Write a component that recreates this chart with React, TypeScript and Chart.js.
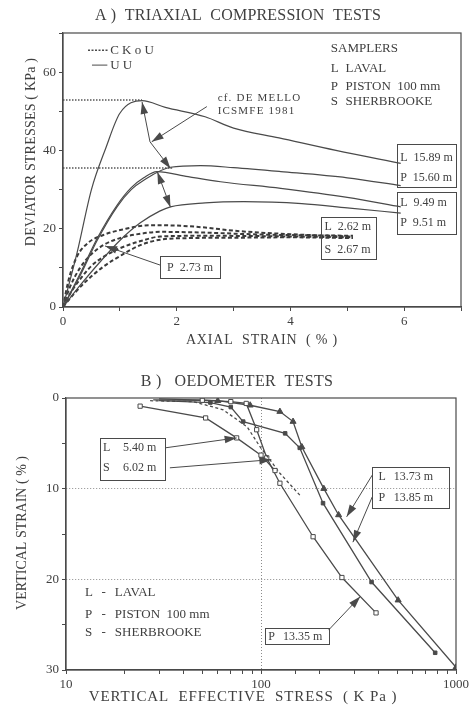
import React, { useEffect, useRef } from 'react';
import { Chart, registerables } from 'chart.js';

Chart.register(...registerables);

const SERIF = '"Liberation Serif", "DejaVu Serif", serif';
const INK = '#404040';
const STROKE = '#4a4a4a';
const GRID = '#8c8c8c';

// ===================== A) TRIAXIAL COMPRESSION TESTS =====================
const strainTickLabels = [0, 2, 4, 6];
const stressTickLabels = [0, 20, 40, 60];

// UU tests (solid)
const uuL1589Strain = [0, 0.25, 0.5, 0.75, 1.0, 1.39, 1.8, 2.5, 3.0, 3.8, 4.8, 5.94];
const uuL1589Stress = [0, 14, 30, 40.5, 49.5, 52.7, 51.0, 48.6, 45.7, 43.2, 40.0, 36.7];
const uuP1560Strain = [0, 0.3, 0.6, 0.95, 1.2, 1.42, 1.89, 2.42, 3.0, 3.83, 5.0, 5.94];
const uuP1560Stress = [0, 8, 17, 25.6, 30, 32.4, 35.7, 36.1, 35.6, 34.6, 33.0, 31.0];
const uuL949Strain = [0, 0.3, 0.6, 0.95, 1.2, 1.42, 1.65, 2.2, 2.77, 3.83, 5.0, 5.94];
const uuL949Stress = [0, 8.5, 17.5, 26, 30.5, 33, 34.6, 33.3, 32.0, 30.3, 28.0, 25.6];
const uuP951Strain = [0, 0.3, 0.65, 1.0, 1.36, 1.7, 1.89, 2.5, 3.18, 4.2, 5.0, 5.94];
const uuP951Stress = [0, 5.5, 11.5, 17, 21.5, 24.5, 25.6, 26.6, 26.9, 26.4, 25.3, 24.0];

// CKoU tests (dashed)
const ck1Strain = [0, 0.1, 0.25, 0.45, 0.71, 1.05, 1.53, 2.0, 2.5, 3.0, 4.0, 5.1];
const ck1Stress = [0, 7, 13, 16.5, 18.4, 19.8, 20.9, 20.8, 20.3, 19.5, 18.6, 18.0];
const ck2Strain = [0, 0.12, 0.3, 0.5, 0.71, 1.0, 1.4, 1.71, 2.5, 3.5, 5.1];
const ck2Stress = [0, 5, 10, 13.5, 15.8, 17.6, 18.8, 19.2, 19.0, 18.5, 18.2];
const ck3Strain = [0, 0.15, 0.35, 0.5, 0.71, 1.0, 1.4, 1.71, 2.5, 3.5, 5.1];
const ck3Stress = [0, 4, 8, 10.5, 12.8, 15.0, 17.0, 18.0, 18.2, 18.1, 17.8];
const ck4Strain = [0, 0.2, 0.4, 0.71, 1.0, 1.36, 1.71, 2.2, 3.0, 4.0, 5.1];
const ck4Stress = [0, 3.5, 6.5, 10.3, 13.0, 15.8, 17.2, 17.6, 17.7, 17.8, 17.6];

// dotted peak reference lines
const peakRef1Strain = [0, 1.39];
const peakRef1Stress = [52.9, 52.9];
const peakRef2Strain = [0, 1.92];
const peakRef2Stress = [35.5, 35.5];

// ===================== B) OEDOMETER TESTS =====================
const effStressTickLabels = [10, 100, 1000];
const vStrainTickLabels = [0, 10, 20, 30];

const l540Stress = [24, 52, 75, 100, 118];
const l540Strain = [0.9, 2.2, 4.4, 6.3, 8.0];
const s602Stress = [27, 45, 64, 85, 99, 111, 125, 161];
const s602Strain = [0.3, 0.4, 1.3, 3.2, 5.4, 6.8, 8.3, 10.9];
const p1335Stress = [28, 50, 70, 84, 95, 107, 125, 185, 260, 389];
const p1335Strain = [0.2, 0.25, 0.4, 0.6, 3.5, 6.6, 9.4, 15.3, 19.8, 23.7];
const l1373Stress = [30, 60, 88, 125, 146, 162, 210, 250, 505, 1000];
const l1373Strain = [0.1, 0.3, 0.8, 1.5, 2.6, 5.4, 10, 12.9, 22.3, 29.7];
const p1385Stress = [30, 55, 70, 81, 133, 158, 208, 369, 782];
const p1385Strain = [0.3, 0.5, 1.0, 2.6, 3.9, 5.5, 11.6, 20.3, 28.1];

// ===================== helpers =====================
type XY = [number, number];
const zip = (xs: number[], ys: number[]) => xs.map((x, i) => ({ x, y: ys[i] }));

type Ann =
  | { t: 'text'; at: XY; s: string; size: number; align?: CanvasTextAlign; sp?: number }
  | { t: 'box'; from: XY; to: XY }
  | { t: 'arrow'; pts: XY[]; start?: boolean; end?: boolean }
  | { t: 'seg'; from: XY; to: XY; dash: number[]; w: number };

type Frame = {
  title: string; titleAt: XY; titleSize: number; titleSp: number;
  xTitle: string; xTitleAt: XY; xSize: number; xSp: number;
  yTitle: string; yTitleAt: XY; ySize: number; ySp: number;
};

function toPx(chart: any, p: XY): XY {
  return [chart.scales.x.getPixelForValue(p[0]), chart.scales.y.getPixelForValue(p[1])];
}

function head(ctx: CanvasRenderingContext2D, from: XY, to: XY) {
  const ang = Math.atan2(to[1] - from[1], to[0] - from[0]);
  const L = 12, W = 3.8;
  const bx = to[0] - L * Math.cos(ang), by = to[1] - L * Math.sin(ang);
  ctx.beginPath();
  ctx.moveTo(to[0], to[1]);
  ctx.lineTo(bx + W * Math.sin(ang), by - W * Math.cos(ang));
  ctx.lineTo(bx - W * Math.sin(ang), by + W * Math.cos(ang));
  ctx.closePath();
  ctx.fill();
}

function textStyle(ctx: CanvasRenderingContext2D, size: number, align: CanvasTextAlign, sp: number) {
  ctx.font = `${size}px ${SERIF}`;
  ctx.textAlign = align;
  ctx.textBaseline = 'middle';
  ctx.fillStyle = INK;
  (ctx as any).letterSpacing = `${sp}px`;
}

function makeLayer(anns: Ann[], frame: Frame) {
  return {
    id: 'sketchLayer',
    afterDraw(chart: any) {
      const ctx: CanvasRenderingContext2D = chart.ctx;
      const ca = chart.chartArea;
      ctx.save();
      ctx.strokeStyle = STROKE;
      ctx.lineWidth = 1.2;
      ctx.setLineDash([]);
      ctx.strokeRect(ca.left, ca.top, ca.right - ca.left, ca.bottom - ca.top);

      textStyle(ctx, frame.titleSize, 'center', frame.titleSp);
      ctx.fillText(frame.title, frame.titleAt[0], frame.titleAt[1]);
      textStyle(ctx, frame.xSize, 'center', frame.xSp);
      ctx.fillText(frame.xTitle, frame.xTitleAt[0], frame.xTitleAt[1]);
      textStyle(ctx, frame.ySize, 'center', frame.ySp);
      ctx.save();
      ctx.translate(frame.yTitleAt[0], frame.yTitleAt[1]);
      ctx.rotate(-Math.PI / 2);
      ctx.fillText(frame.yTitle, 0, 0);
      ctx.restore();

      for (const a of anns) {
        ctx.strokeStyle = STROKE;
        ctx.fillStyle = STROKE;
        ctx.setLineDash([]);
        if (a.t === 'text') {
          const p = toPx(chart, a.at);
          textStyle(ctx, a.size, a.align || 'left', a.sp || 0);
          ctx.fillText(a.s, p[0], p[1]);
        } else if (a.t === 'box') {
          const p1 = toPx(chart, a.from), p2 = toPx(chart, a.to);
          ctx.lineWidth = 1;
          ctx.strokeRect(Math.round(p1[0]) + 0.5, Math.round(p1[1]) + 0.5, Math.round(p2[0] - p1[0]), Math.round(p2[1] - p1[1]));
        } else if (a.t === 'seg') {
          const p1 = toPx(chart, a.from), p2 = toPx(chart, a.to);
          ctx.lineWidth = a.w;
          ctx.setLineDash(a.dash);
          ctx.beginPath();
          ctx.moveTo(p1[0], p1[1]);
          ctx.lineTo(p2[0], p2[1]);
          ctx.stroke();
        } else if (a.t === 'arrow') {
          const ps = a.pts.map((q) => toPx(chart, q));
          ctx.lineWidth = 1;
          ctx.beginPath();
          ps.forEach((q, i) => (i === 0 ? ctx.moveTo(q[0], q[1]) : ctx.lineTo(q[0], q[1])));
          ctx.stroke();
          if (a.start) head(ctx, ps[1], ps[0]);
          if (a.end !== false) head(ctx, ps[ps.length - 2], ps[ps.length - 1]);
        }
      }
      (ctx as any).letterSpacing = '0px';
      ctx.restore();
    },
  };
}

const tickFont = { family: SERIF, size: 13 };

// ===================== annotations =====================
const annsA: Ann[] = [
  { t: 'seg', from: [0.44, 65.6], to: [0.79, 65.6], dash: [2, 1.5], w: 1.6 },
  { t: 'text', at: [0.83, 65.6], s: 'C K o U', size: 13 },
  { t: 'seg', from: [0.51, 61.8], to: [0.78, 61.8], dash: [], w: 1 },
  { t: 'text', at: [0.83, 61.8], s: 'U U', size: 13 },
  { t: 'text', at: [4.71, 66.1], s: 'SAMPLERS', size: 13 },
  { t: 'text', at: [4.71, 61.0], s: 'L', size: 13 },
  { t: 'text', at: [4.97, 61.0], s: 'LAVAL', size: 13 },
  { t: 'text', at: [4.71, 56.4], s: 'P', size: 13 },
  { t: 'text', at: [4.97, 56.4], s: 'PISTON  100 mm', size: 13 },
  { t: 'text', at: [4.71, 52.4], s: 'S', size: 13 },
  { t: 'text', at: [4.97, 52.4], s: 'SHERBROOKE', size: 13 },
  { t: 'text', at: [2.72, 53.3], s: 'cf. DE MELLO', size: 11, sp: 1.2 },
  { t: 'text', at: [2.72, 50.1], s: 'ICSMFE 1981', size: 11, sp: 1.2 },
  { t: 'arrow', pts: [[2.53, 51.2], [1.56, 42.2]] },
  { t: 'arrow', pts: [[1.39, 52.4], [1.53, 42.2], [1.89, 35.4]], start: true },
  { t: 'arrow', pts: [[1.66, 34.5], [1.89, 25.5]], start: true },
  { t: 'box', from: [5.87, 41.6], to: [6.9, 30.6] },
  { t: 'text', at: [5.93, 38.2], s: 'L  15.89 m', size: 12 },
  { t: 'text', at: [5.93, 33.1], s: 'P  15.60 m', size: 12 },
  { t: 'box', from: [5.87, 29.4], to: [6.9, 18.6] },
  { t: 'text', at: [5.93, 26.7], s: 'L  9.49 m', size: 12 },
  { t: 'text', at: [5.93, 21.5], s: 'P  9.51 m', size: 12 },
  { t: 'box', from: [4.53, 23.0], to: [5.49, 12.3] },
  { t: 'text', at: [4.6, 20.4], s: 'L  2.62 m', size: 12 },
  { t: 'text', at: [4.6, 14.6], s: 'S  2.67 m', size: 12 },
  { t: 'box', from: [1.71, 13.0], to: [2.77, 7.3] },
  { t: 'text', at: [1.83, 10.1], s: 'P  2.73 m', size: 12 },
  { t: 'arrow', pts: [[1.71, 10.7], [0.74, 15.6]] },
];

const annsB: Ann[] = [
  { t: 'text', at: [12.5, 21.5], s: 'L', size: 13 },
  { t: 'text', at: [15.2, 21.5], s: '-', size: 13 },
  { t: 'text', at: [17.8, 21.5], s: 'LAVAL', size: 13 },
  { t: 'text', at: [12.5, 23.9], s: 'P', size: 13 },
  { t: 'text', at: [15.2, 23.9], s: '-', size: 13 },
  { t: 'text', at: [17.8, 23.9], s: 'PISTON  100 mm', size: 13 },
  { t: 'text', at: [12.5, 25.9], s: 'S', size: 13 },
  { t: 'text', at: [15.2, 25.9], s: '-', size: 13 },
  { t: 'text', at: [17.8, 25.9], s: 'SHERBROOKE', size: 13 },
  { t: 'box', from: [14.9, 4.44], to: [32.2, 9.04] },
  { t: 'text', at: [15.5, 5.55], s: 'L', size: 12 },
  { t: 'text', at: [19.6, 5.55], s: '5.40 m', size: 12 },
  { t: 'text', at: [15.5, 7.75], s: 'S', size: 12 },
  { t: 'text', at: [19.6, 7.75], s: '6.02 m', size: 12 },
  { t: 'arrow', pts: [[32.2, 5.5], [75, 4.4]] },
  { t: 'arrow', pts: [[34.1, 7.7], [113, 6.8]] },
  { t: 'box', from: [372, 7.64], to: [924, 12.16] },
  { t: 'text', at: [400, 8.68], s: 'L', size: 12 },
  { t: 'text', at: [479, 8.68], s: '13.73 m', size: 12 },
  { t: 'text', at: [400, 11.06], s: 'P', size: 12 },
  { t: 'text', at: [479, 11.06], s: '13.85 m', size: 12 },
  { t: 'arrow', pts: [[372, 8.5], [275, 13.1]] },
  { t: 'arrow', pts: [[372, 10.9], [296, 15.9]] },
  { t: 'box', from: [104.8, 25.4], to: [222, 27.2] },
  { t: 'text', at: [108.9, 26.3], s: 'P', size: 12 },
  { t: 'text', at: [129.8, 26.3], s: '13.35 m', size: 12 },
  { t: 'arrow', pts: [[222, 25.6], [323, 21.9]] },
];

// ===================== chart configs =====================
function configA(): any {
  const solid = (label: string, xs: number[], ys: number[]) => ({
    label, data: zip(xs, ys), borderColor: STROKE, borderWidth: 1.2, pointRadius: 0,
    cubicInterpolationMode: 'monotone', fill: false,
  });
  const dashed = (label: string, xs: number[], ys: number[]) => ({
    label, data: zip(xs, ys), borderColor: '#3a3a3a', borderWidth: 2, borderDash: [4, 2.5], pointRadius: 0,
    cubicInterpolationMode: 'monotone', fill: false,
  });
  const dotted = (label: string, xs: number[], ys: number[]) => ({
    label, data: zip(xs, ys), borderColor: '#555', borderWidth: 1.6, borderDash: [1.5, 1.5], pointRadius: 0, fill: false,
  });
  return {
    type: 'line',
    data: {
      datasets: [
        solid('UU L 15.89 m', uuL1589Strain, uuL1589Stress),
        solid('UU P 15.60 m', uuP1560Strain, uuP1560Stress),
        solid('UU L 9.49 m', uuL949Strain, uuL949Stress),
        solid('UU P 9.51 m', uuP951Strain, uuP951Stress),
        dashed('CKoU L 2.62 m', ck1Strain, ck1Stress),
        dashed('CKoU', ck2Strain, ck2Stress),
        dashed('CKoU S 2.67 m', ck3Strain, ck3Stress),
        dashed('CKoU P 2.73 m', ck4Strain, ck4Stress),
        dotted('peak 1', peakRef1Strain, peakRef1Stress),
        dotted('peak 2', peakRef2Strain, peakRef2Stress),
      ],
    },
    options: {
      animation: false,
      responsive: false,
      layout: { padding: { top: 33, right: 11, bottom: 0, left: 0 } },
      plugins: { legend: { display: false }, tooltip: { enabled: false } },
      scales: {
        x: {
          type: 'linear', min: 0, max: 7,
          ticks: {
            stepSize: 1, autoSkip: false, maxRotation: 0, color: INK, font: tickFont, padding: 3,
            callback: (v: number) => (strainTickLabels.includes(v) ? String(v) : ''),
          },
          grid: { drawOnChartArea: false, tickLength: 4, tickColor: STROKE },
          border: { color: STROKE, width: 1.2 },
          afterFit: (s: any) => { s.height = 53; },
        },
        y: {
          type: 'linear', min: 0, max: 70,
          ticks: {
            stepSize: 10, autoSkip: false, color: INK, font: tickFont, padding: 3,
            callback: (v: number) => (stressTickLabels.includes(v) ? String(v) : ''),
          },
          grid: { drawOnChartArea: false, tickLength: 4, tickColor: STROKE },
          border: { color: STROKE, width: 1.2 },
          afterFit: (s: any) => { s.width = 63; },
        },
      },
    },
    plugins: [
      makeLayer(annsA, {
        title: 'A )  TRIAXIAL  COMPRESSION  TESTS', titleAt: [238, 16], titleSize: 16, titleSp: 0.2,
        xTitle: 'AXIAL  STRAIN  ( % )', xTitleAt: [262, 340], xSize: 14, xSp: 0.8,
        yTitle: 'DEVIATOR STRESSES ( KPa )', yTitleAt: [31, 152], ySize: 14, ySp: 0.2,
      }),
    ],
  };
}

function configB(): any {
  const line = (label: string, xs: number[], ys: number[], o: any) => ({
    label, data: zip(xs, ys), borderColor: STROKE, borderWidth: 1.3, tension: 0, fill: false,
    pointBorderColor: STROKE, pointBorderWidth: 1,
    pointRadius: (c: any) => (c.dataIndex === 0 && !o.first ? 0 : o.r), ...o.extra,
  });
  return {
    type: 'line',
    data: {
      datasets: [
        line('L 5.40 m', l540Stress, l540Strain, { r: 3, first: true, extra: { pointStyle: 'rect', pointBackgroundColor: '#fff' } }),
        line('S 6.02 m', s602Stress, s602Strain, { r: 0, extra: { borderDash: [3, 2.5] } }),
        line('P 13.35 m', p1335Stress, p1335Strain, { r: 3, extra: { pointStyle: 'rect', pointBackgroundColor: '#fff' } }),
        line('L 13.73 m', l1373Stress, l1373Strain, { r: 3.5, extra: { pointStyle: 'triangle', pointBackgroundColor: STROKE } }),
        line('P 13.85 m', p1385Stress, p1385Strain, { r: 2.5, extra: { pointStyle: 'rect', pointBackgroundColor: STROKE } }),
      ],
    },
    options: {
      animation: false,
      responsive: false,
      layout: { padding: { top: 38, right: 16, bottom: 0, left: 0 } },
      plugins: { legend: { display: false }, tooltip: { enabled: false } },
      scales: {
        x: {
          type: 'logarithmic', min: 10, max: 1000,
          ticks: {
            autoSkip: false, maxRotation: 0, color: INK, font: tickFont, padding: 3,
            callback: (v: number) => (effStressTickLabels.includes(v) ? String(v) : ''),
          },
          grid: {
            color: (c: any) => (c.tick && c.tick.value === 100 ? GRID : 'rgba(0,0,0,0)'),
            tickLength: 4, tickColor: STROKE, lineWidth: 1,
          },
          border: { color: STROKE, width: 1.2, dash: [1, 2] },
          afterFit: (s: any) => { s.height = 39; },
        },
        y: {
          type: 'linear', min: 0, max: 30, reverse: true,
          ticks: {
            stepSize: 5, autoSkip: false, color: INK, font: tickFont, padding: 3,
            callback: (v: number) => (vStrainTickLabels.includes(v) ? String(v) : ''),
          },
          grid: {
            color: (c: any) => (c.tick && (c.tick.value === 10 || c.tick.value === 20) ? GRID : 'rgba(0,0,0,0)'),
            tickLength: 4, tickColor: STROKE, lineWidth: 1,
          },
          border: { color: STROKE, width: 1.2, dash: [1, 2] },
          afterFit: (s: any) => { s.width = 66; },
        },
      },
    },
    plugins: [
      makeLayer(annsB, {
        title: 'B )   OEDOMETER  TESTS', titleAt: [237, 22], titleSize: 16, titleSp: 0.3,
        xTitle: 'VERTICAL  EFFECTIVE  STRESS  ( K Pa )', xTitleAt: [243, 337], xSize: 15, xSp: 0.9,
        yTitle: 'VERTICAL STRAIN ( % )', yTitleAt: [22, 173], ySize: 14, ySp: 0,
      }),
    ],
  };
}

export default function App() {
  const refA = useRef<HTMLCanvasElement>(null);
  const refB = useRef<HTMLCanvasElement>(null);
  useEffect(() => {
    const a = new Chart(refA.current as HTMLCanvasElement, configA());
    const b = new Chart(refB.current as HTMLCanvasElement, configB());
    return () => {
      a.destroy();
      b.destroy();
    };
  }, []);
  return (
    <div style={{ position: 'absolute', left: 0, top: 0, width: 472, height: 709, background: '#fff' }}>
      <canvas ref={refA} width={472} height={360} style={{ position: 'absolute', left: 0, top: 0 }} />
      <canvas ref={refB} width={472} height={349} style={{ position: 'absolute', left: 0, top: 360 }} />
    </div>
  );
}
